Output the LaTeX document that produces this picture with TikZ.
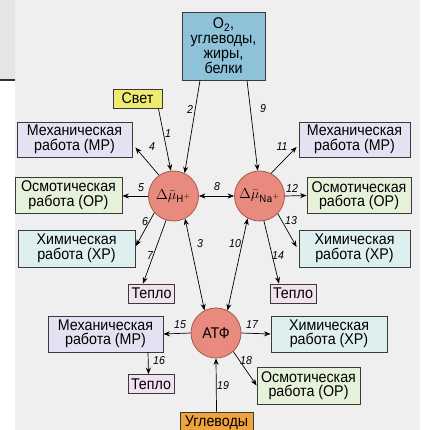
\documentclass[tikz,border=0pt]{standalone}
\usepackage{fontspec}
\setmainfont[FakeStretch=0.92]{Liberation Sans}
\usetikzlibrary{calc,arrows.meta}
\definecolor{bgc}{HTML}{EFEFEF}
\definecolor{stripc}{HTML}{E5E5E5}
\definecolor{boxline}{HTML}{3A3A3A}
\definecolor{mpc}{HTML}{E4E2F2}
\definecolor{opc}{HTML}{E5F1D9}
\definecolor{xrc}{HTML}{DDEFEF}
\definecolor{tepc}{HTML}{F2E2EF}
\definecolor{svetc}{HTML}{EEEA72}
\definecolor{o2c}{HTML}{8DC2D9}
\definecolor{uglc}{HTML}{F0A23E}
\definecolor{circf}{HTML}{E98A7E}
\definecolor{circd}{HTML}{A9574D}
\begin{document}
\begin{tikzpicture}[x=1pt,y=-1pt,
  box/.style={draw=boxline, line width=0.8pt, inner sep=0pt, align=center,
    font=\fontsize{15.5}{14.5}\selectfont},
  mpbox/.style={box, fill=mpc},
  opbox/.style={box, fill=opc},
  xrbox/.style={box, fill=xrc},
  tepbox/.style={box, fill=tepc, minimum width=46pt, minimum height=19pt},
  circ/.style={circle, draw=circd, line width=0.8pt, fill=circf, minimum size=50pt, inner sep=0pt},
  arr/.style={line width=0.7pt, -{Stealth[length=6.5pt,width=5pt]}},
  darr/.style={line width=0.7pt, {Stealth[length=6.5pt,width=5pt]}-{Stealth[length=6.5pt,width=5pt]}},
  lbl/.style={font=\fontsize{11.5}{11.5}\selectfont\itshape, inner sep=0pt}
]
\useasboundingbox (0,0) rectangle (420,430);
\fill[white] (0,0) rectangle (15,430);
\fill[bgc] (15,0) rectangle (420,430);
\fill[stripc] (0,0) rectangle (15,79);
\draw[line width=2pt, black!80] (0,80.5) -- (15,80.5);

% top sources
\node[box, fill=o2c, minimum width=83pt, minimum height=68pt, font=\fontsize{15.5}{15}\selectfont] (o2) at (223.5,46)
  {O\textsubscript{2},\\углеводы,\\жиры,\\белки};
\node[box, fill=svetc, minimum width=49pt, minimum height=19pt] (svet) at (137.5,98.5) {Свет};

% circles
\node[circ] (H) at (173.5,196) {\fontsize{15}{15}\selectfont$\Delta\bar{\mu}_{\mathrm{H}^{+}}$};
\node[circ] (Na) at (259.5,196) {\fontsize{15}{15}\selectfont$\Delta\bar{\mu}_{\mathrm{Na}^{+}}$};
\node[circ, font=\fontsize{15.5}{14}\selectfont] (atp) at (216,333) {АТФ};

% left boxes
\node[mpbox, minimum width=115pt, minimum height=35pt] (mpL) at (74.5,139.5) {Механическая\\работа (МР)};
\node[opbox, minimum width=107pt, minimum height=36pt] (opL) at (68.5,195) {Осмотическая\\работа (ОР)};
\node[xrbox, minimum width=117pt, minimum height=37pt] (xrL) at (76.5,248.5) {Химическая\\работа (ХР)};
\node[tepbox] (tepL) at (151.5,293.5) {Тепло};

% right boxes
\node[mpbox, minimum width=111pt, minimum height=35pt] (mpR) at (354.5,139.5) {Механическая\\работа (МР)};
\node[opbox, minimum width=104pt, minimum height=36pt] (opR) at (359,195.5) {Осмотическая\\работа (ОР)};
\node[xrbox, minimum width=111pt, minimum height=37pt] (xrR) at (354.5,248.5) {Химическая\\работа (ХР)};
\node[tepbox] (tepR) at (293,293.5) {Тепло};

% bottom boxes
\node[mpbox, minimum width=115pt, minimum height=36pt] (mpB) at (105.5,334) {Механическая\\работа (МР)};
\node[xrbox, minimum width=116pt, minimum height=36pt] (xrB) at (329,334) {Химическая\\работа (ХР)};
\node[tepbox] (tepB) at (151,384) {Тепло};
\node[opbox, minimum width=103pt, minimum height=37pt] (opB) at (308.5,385.5) {Осмотическая\\работа (ОР)};
\node[box, fill=uglc, minimum width=73pt, minimum height=22pt] (ugl) at (216.5,423) {Углеводы};

% connectors
\draw[arr] ($(svet.south east)+(-4,0)$) -- (H.96);
\draw[arr] ($(o2.south)+(-23.5,0)$) -- (H.64);
\draw[arr] ($(o2.south)+(23.5,0)$) -- (Na.94);
\draw[arr] (H.125) -- ($(mpL.east)+(3,8)$);
\draw[arr] (H.180) -- ($(opL.east)+(0,1)$);
\draw[arr] (H.221) -- ($(xrL.east)+(0.5,-2.5)$);
\draw[arr] (H.253) -- ($(tepL.north)+(-8.5,0)$);
\draw[darr] (H.297) -- (atp.117);
\draw[darr] (H.0) -- (Na.180);
\draw[darr] (Na.242) -- (atp.63);
\draw[arr] (Na.63) -- ($(mpR.west)+(-2,7.5)$);
\draw[arr] (Na.0) -- (opR.west);
\draw[arr] (Na.316) -- ($(xrR.west)+(-2,-1.5)$);
\draw[arr] (Na.280) -- ($(tepR.north)+(-14,0)$);
\draw[arr] (atp.180) -- (mpB.east);
\draw[arr] (atp.0) -- (xrB.west);
\draw[arr] ($(mpB.south)+(42.5,0)$) -- ($(tepB.north)+(-2.5,0)$);
\draw[arr] (atp.313) -- (opB.west);
\draw[arr] (ugl.north) -- (atp.270);

% labels
\node[lbl] (l1) at (168,134) {1};
\node[lbl] (l2) at (190,109) {2};
\node[lbl] (l9) at (263,109) {9};
\node[lbl] (l4) at (152,147) {4};
\node[lbl] (l11) at (282,147) {11};
\node[lbl] (l5) at (141,188) {5};
\node[lbl] (l8) at (217,187) {8};
\node[lbl] (l12) at (292,188) {12};
\node[lbl] (l6) at (145,222) {6};
\node[lbl] (l13) at (291,221) {13};
\node[lbl] (l3) at (200,244) {3};
\node[lbl] (l10) at (235,244) {10};
\node[lbl] (l7) at (150,256) {7};
\node[lbl] (l14) at (278,256) {14};
\node[lbl] (l15) at (180,325) {15};
\node[lbl] (l17) at (252,325) {17};
\node[lbl] (l16) at (159,361) {16};
\node[lbl] (l18) at (246,361) {18};
\node[lbl] (l19) at (223,386) {19};
\end{tikzpicture}
\end{document}
